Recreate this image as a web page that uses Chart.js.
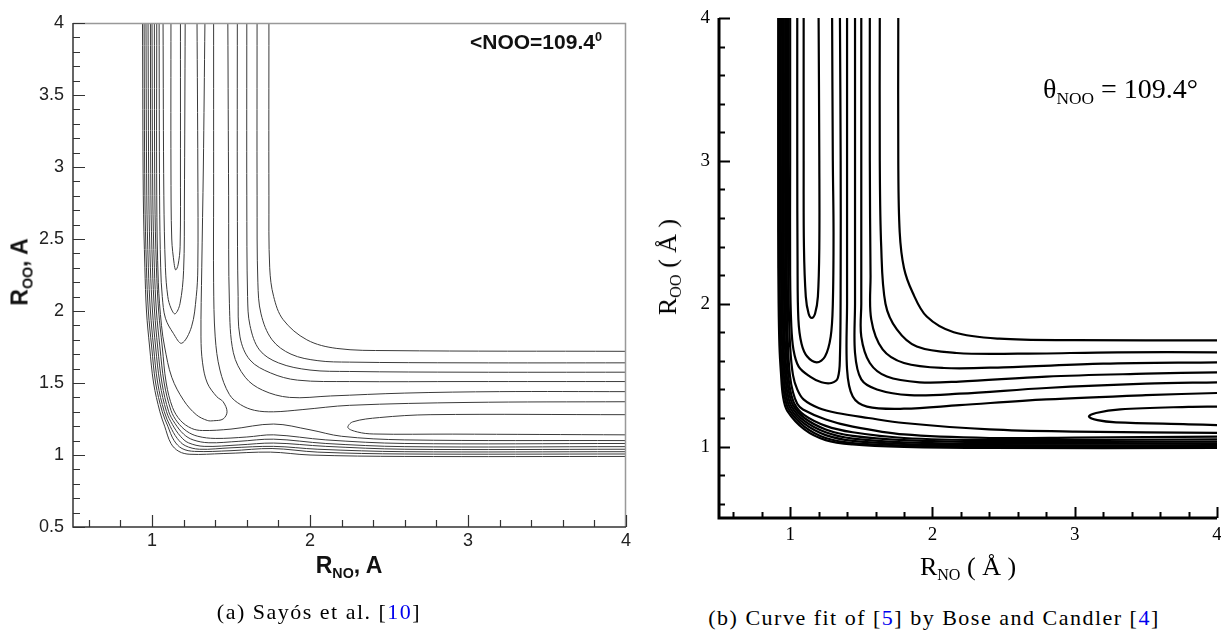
<!DOCTYPE html>
<html>
<head>
<meta charset="utf-8">
<script src="https://cdn.jsdelivr.net/npm/chart.js@4.4.1/dist/chart.umd.min.js"></script>
<style>
  body { margin: 0; background: #fff; }
  #page { position: relative; width: 1221px; height: 631px; overflow: hidden; background: #fff; }
  canvas { position: absolute; top: 0; }
  .txt { position: absolute; white-space: nowrap; line-height: 1; }
  .c { transform: translate(-50%, -50%); }
  .rot { transform: translate(-50%, -50%) rotate(-90deg); }
  .sans { font-family: "Liberation Sans", Arial, sans-serif; font-weight: bold; color: #111; }
  .serif { font-family: "Liberation Serif", "Times New Roman", serif; color: #000; }
  .cap { font-size: 22px; letter-spacing: 1.5px; }
  .sub { font-size: 62%; position: relative; top: 0.32em; }
  .sup { font-size: 60%; position: relative; top: -0.6em; }
  .cite { color: #0000ee; }
</style>
</head>
<body>
<div id="page">
  <canvas id="leftChart" width="640" height="560" style="left:0"></canvas>
  <canvas id="rightChart" width="581" height="560" style="left:640px"></canvas>

  <div class="txt sans rot" style="left:20px; top:272px; font-size:23px;">R<span class="sub">OO</span>, A</div>
  <div class="txt sans c" style="left:349px; top:565px; font-size:23px;">R<span class="sub">NO</span>, A</div>
  <div class="txt sans" style="left:470px; top:31px; font-size:21px;">&lt;NOO=109.4<span class="sup">0</span></div>
  <div class="txt serif cap c" style="left:319px; top:612px;">(a) Sayós et al. [<span class="cite">10</span>]</div>

  <div class="txt serif rot" style="left:668px; top:267px; font-size:26px;">R<span class="sub">OO</span> ( Å )</div>
  <div class="txt serif c" style="left:968px; top:567px; font-size:26px;">R<span class="sub">NO</span> ( Å )</div>
  <div class="txt serif" style="left:1043px; top:75px; font-size:28px;">θ<span class="sub">NOO</span> = 109.4°</div>
  <div class="txt serif cap c" style="left:934px; top:618px;">(b) Curve fit of [<span class="cite">5</span>] by Bose and Candler [<span class="cite">4</span>]</div>
</div>

<script>
// ---- axis ticks ----
const leftXTicks = [1, 2, 3, 4];
const leftYTicks = [0.5, 1, 1.5, 2, 2.5, 3, 3.5, 4];
const rightXTicks = [1, 2, 3, 4];
const rightYTicks = [1, 2, 3, 4];

// ---- (a) Sayos et al. contours, [R_NO, R_OO] ----
// dense band hugging the corner
const aBand0 = [[0.94,4],[0.945,2.8],[0.955,2.3],[0.965,2.0],[0.985,1.75],[1.01,1.5],[1.05,1.3],[1.08,1.2],[1.12,1.08],[1.17,1.025],[1.24,1.005],[1.45,1.01],[1.75,1.02],[2.0,1.0],[2.6,0.99],[4,0.99]];
const aBand1 = [[0.95,4],[0.955,2.8],[0.965,2.3],[0.977,2.0],[0.998,1.75],[1.023,1.5],[1.065,1.3],[1.1,1.2],[1.14,1.1],[1.19,1.045],[1.27,1.025],[1.5,1.03],[1.76,1.045],[2.05,1.02],[2.6,1.007],[4,1.007]];
const aBand2 = [[0.962,4],[0.967,2.8],[0.977,2.3],[0.99,2.0],[1.01,1.75],[1.036,1.5],[1.078,1.3],[1.115,1.2],[1.16,1.115],[1.21,1.065],[1.3,1.04],[1.5,1.05],[1.77,1.06],[2.05,1.04],[2.6,1.023],[4,1.023]];
const aBand3 = [[0.975,4],[0.98,2.8],[0.99,2.3],[1.003,2.0],[1.023,1.75],[1.05,1.5],[1.092,1.3],[1.13,1.21],[1.18,1.13],[1.23,1.085],[1.33,1.06],[1.55,1.07],[1.77,1.083],[2.1,1.06],[2.6,1.04],[4,1.04]];
const aBand4 = [[0.99,4],[0.993,2.8],[1.003,2.3],[1.016,2.0],[1.036,1.75],[1.063,1.5],[1.106,1.3],[1.145,1.22],[1.2,1.145],[1.26,1.105],[1.36,1.085],[1.55,1.095],[1.77,1.11],[2.1,1.08],[2.6,1.058],[4,1.058]];
const aBand5 = [[1.0,4],[1.005,2.8],[1.015,2.3],[1.028,2.0],[1.05,1.75],[1.077,1.5],[1.12,1.31],[1.16,1.23],[1.22,1.165],[1.29,1.13],[1.4,1.115],[1.6,1.125],[1.77,1.14],[2.1,1.105],[2.6,1.08],[4,1.08]];
const aBand6 = [[1.015,4],[1.018,2.8],[1.028,2.3],[1.042,2.0],[1.065,1.75],[1.09,1.5],[1.13,1.33],[1.18,1.24],[1.25,1.185],[1.32,1.17],[1.5,1.18],[1.77,1.215],[2.0,1.175],[2.2,1.13],[2.6,1.105],[4,1.10]];
// pockets opening upward
const aPocket1 = [[1.12,4],[1.12,3],[1.125,2.5],[1.14,2.33],[1.15,2.285],[1.165,2.32],[1.178,2.45],[1.18,3],[1.18,4]];
const aPocket2 = [[1.07,4],[1.075,2.8],[1.085,2.3],[1.1,2.1],[1.12,2.02],[1.146,1.98],[1.177,2.05],[1.2,2.28],[1.205,2.75],[1.21,4]];
const aPocket3 = [[1.045,4],[1.048,2.8],[1.055,2.3],[1.065,2.1],[1.085,1.95],[1.135,1.845],[1.188,1.776],[1.25,1.89],[1.28,2.1],[1.29,2.3],[1.29,3],[1.285,4]];
const aPocket4 = [[1.03,4],[1.03,2.8],[1.04,2.2],[1.06,1.9],[1.08,1.75],[1.125,1.54],[1.2,1.38],[1.28,1.28],[1.35,1.24],[1.39,1.238],[1.45,1.25],[1.475,1.3],[1.45,1.37],[1.41,1.405],[1.35,1.5],[1.32,1.64],[1.31,1.82],[1.315,2.3],[1.325,3],[1.335,4]];
// L-shaped contours
const aL1 = [[1.39,4],[1.39,2.8],[1.39,2.2],[1.4,1.82],[1.43,1.59],[1.49,1.42],[1.56,1.35],[1.65,1.31],[1.77,1.3],[1.95,1.315],[2.25,1.345],[3,1.365],[4,1.37]];
const aL2 = [[1.48,4],[1.485,2.8],[1.49,2.05],[1.515,1.71],[1.59,1.54],[1.7,1.45],[1.87,1.40],[2.13,1.41],[2.6,1.43],[3.2,1.44],[4,1.44]];
const aL3 = [[1.54,4],[1.54,2.8],[1.545,2.1],[1.557,1.82],[1.62,1.66],[1.75,1.57],[1.92,1.52],[2.25,1.51],[3,1.51],[4,1.51]];
const aL4 = [[1.60,4],[1.60,2.8],[1.605,2.1],[1.62,1.9],[1.68,1.73],[1.8,1.64],[2.0,1.59],[2.25,1.58],[3,1.575],[4,1.575]];
const aL5 = [[1.665,4],[1.665,2.8],[1.67,2.2],[1.69,1.98],[1.76,1.8],[1.88,1.7],[2.05,1.655],[2.25,1.645],[3,1.64],[4,1.64]];
const aL6 = [[1.74,4],[1.74,2.8],[1.745,2.3],[1.77,2.1],[1.83,1.94],[1.98,1.8],[2.17,1.74],[2.5,1.725],[4,1.72]];
// pocket opening to the right
const aRight = [[4,1.28],[2.76,1.28],[2.44,1.26],[2.27,1.23],[2.24,1.19],[2.3,1.16],[2.4,1.146],[2.9,1.145],[4,1.14]];

// ---- (b) Bose and Candler fit, [R_NO, R_OO] ----
const bBand0 = [[0.985,4],[0.985,2.5],[0.99,2.0],[1.0,1.7],[1.02,1.5],[1.05,1.4],[1.094,1.33],[1.2,1.27],[1.33,1.235],[1.55,1.2],[1.8,1.165],[2.4,1.12],[3,1.105],[4,1.096]];
const bBand1 = [[0.975,4],[0.975,2.5],[0.978,2.0],[0.985,1.7],[0.998,1.5],[1.02,1.38],[1.05,1.3],[1.09,1.26],[1.25,1.19],[1.44,1.14],[1.8,1.085],[2.4,1.06],[3,1.062],[4,1.07]];
const bBand2 = [[0.965,4],[0.965,2.5],[0.968,2.0],[0.975,1.7],[0.985,1.52],[1.0,1.4],[1.03,1.3],[1.1,1.22],[1.25,1.145],[1.44,1.1],[1.8,1.06],[2.4,1.045],[4,1.05]];
const bBand3 = [[0.955,4],[0.955,2.5],[0.958,2.0],[0.964,1.7],[0.974,1.52],[0.99,1.39],[1.02,1.29],[1.1,1.2],[1.25,1.12],[1.44,1.075],[1.8,1.045],[2.4,1.032],[4,1.035]];
const bBand4 = [[0.945,4],[0.945,2.5],[0.948,2.0],[0.954,1.7],[0.964,1.52],[0.98,1.38],[1.01,1.28],[1.1,1.18],[1.25,1.1],[1.44,1.055],[1.8,1.03],[2.4,1.02],[4,1.022]];
const bBand5 = [[0.935,4],[0.935,2.5],[0.938,2.0],[0.944,1.7],[0.954,1.52],[0.97,1.37],[1.0,1.27],[1.1,1.16],[1.25,1.08],[1.44,1.04],[1.8,1.018],[2.4,1.01],[4,1.01]];
const bBand6 = [[0.925,4],[0.925,2.5],[0.928,2.0],[0.934,1.7],[0.944,1.52],[0.96,1.36],[0.99,1.26],[1.1,1.14],[1.25,1.06],[1.44,1.025],[1.8,1.008],[2.4,1.0],[4,1.0]];
const bBand7 = [[0.916,4],[0.916,2.5],[0.919,2.0],[0.925,1.7],[0.935,1.52],[0.95,1.35],[0.98,1.25],[1.1,1.12],[1.25,1.045],[1.44,1.015],[1.8,0.998],[2.4,0.99],[4,0.99]];
const bPocket1 = [[1.095,4],[1.095,3],[1.097,2.4],[1.11,2.05],[1.13,1.93],[1.152,1.90],[1.175,1.93],[1.195,2.05],[1.205,2.4],[1.205,3],[1.2,4]];
const bPocket2 = [[1.05,4],[1.05,3],[1.052,2.3],[1.058,1.89],[1.08,1.72],[1.12,1.63],[1.187,1.59],[1.245,1.63],[1.285,1.77],[1.3,2.0],[1.305,2.5],[1.3,3],[1.295,4]];
const bPocket3 = [[1.0,4],[1.0,3],[1.0,2.2],[1.008,1.85],[1.023,1.68],[1.06,1.56],[1.14,1.49],[1.22,1.45],[1.29,1.445],[1.335,1.48],[1.35,1.63],[1.355,2.2],[1.355,3],[1.35,4]];
const bL1 = [[1.40,4],[1.40,3],[1.40,2.0],[1.40,1.54],[1.44,1.35],[1.54,1.28],[1.8,1.265],[2.19,1.29],[2.8,1.33],[3.5,1.36],[4,1.375]];
const bL2 = [[1.456,4],[1.456,3],[1.456,2.0],[1.456,1.655],[1.50,1.47],[1.61,1.40],[1.84,1.36],[2.19,1.37],[2.8,1.41],[3.5,1.44],[4,1.45]];
const bL3 = [[1.50,4],[1.50,3],[1.50,2.0],[1.50,1.77],[1.56,1.585],[1.68,1.49],[1.91,1.45],[2.19,1.455],[2.8,1.49],[3.5,1.51],[4,1.52]];
const bL4 = [[1.56,4],[1.56,3],[1.565,2.2],[1.57,1.89],[1.65,1.68],[1.80,1.585],[2.08,1.55],[2.5,1.555],[3.2,1.58],[4,1.59]];
const bL5 = [[1.63,4],[1.63,3],[1.64,2.4],[1.67,2.0],[1.75,1.82],[1.89,1.70],[2.17,1.655],[2.6,1.65],[3.3,1.66],[4,1.66]];
const bL6 = [[1.76,4],[1.76,3],[1.77,2.5],[1.8,2.25],[1.86,2.08],[1.96,1.91],[2.15,1.80],[2.47,1.755],[3,1.745],[4,1.743]];
const bRight = [[4,1.28],[3.8,1.278],[3.32,1.26],[3.15,1.235],[3.10,1.21],[3.16,1.185],[3.29,1.17],[3.8,1.156],[4,1.15]];

const leftCurves = [aBand0, aBand1, aBand2, aBand3, aBand4, aBand5, aBand6,
    aPocket1, aPocket2, aPocket3, aPocket4, aL1, aL2, aL3, aL4, aL5, aL6, aRight];
const rightCurves = [bBand0, bBand1, bBand2, bBand3, bBand4, bBand5, bBand6, bBand7,
    bPocket1, bPocket2, bPocket3, bL1, bL2, bL3, bL4, bL5, bL6, bRight];

// Axis lines and inward ticks, placed through the chart's own scales
const axesPlugin = {
    id: 'axes',
    afterDatasetsDraw(chart, args, o) {
        const { ctx, chartArea: a, scales: { x, y } } = chart;
        ctx.save();
        if (o.frameColor) {
            ctx.strokeStyle = o.frameColor;
            ctx.lineWidth = o.frameWidth;
            ctx.beginPath();
            ctx.moveTo(a.left, a.top + 0.5);
            ctx.lineTo(a.right - 0.5, a.top + 0.5);
            ctx.lineTo(a.right - 0.5, a.bottom);
            ctx.stroke();
        }
        ctx.strokeStyle = o.color;
        const drawTicks = (scale, values, len, width) => {
            ctx.lineWidth = width;
            ctx.beginPath();
            values.forEach(v => {
                const p = Math.round(scale.getPixelForValue(v)) + 0.5;
                if (scale.axis === 'x') {
                    ctx.moveTo(p, a.bottom);
                    ctx.lineTo(p, a.bottom - len);
                } else {
                    ctx.moveTo(a.left, p);
                    ctx.lineTo(a.left + len, p);
                }
            });
            ctx.stroke();
        };
        // minor tick positions between the labelled ones
        const minors = (scale, step, majors) => {
            const out = [];
            const first = Math.ceil(scale.min / step - 1e-6);
            for (let i = first; i * step < scale.max - 1e-6; i++) {
                const v = +(i * step).toFixed(4);
                if (v > scale.min && !majors.some(m => Math.abs(m - v) < 1e-6)) out.push(v);
            }
            return out;
        };
        drawTicks(x, minors(x, o.xMinor, o.xMajor), o.minorLen, o.tickWidth);
        drawTicks(y, minors(y, o.yMinor, o.yMajor), o.minorLen, o.tickWidth);
        drawTicks(x, o.xMajor, o.majorLen, o.tickWidth);
        drawTicks(y, o.yMajor, o.majorLen, o.tickWidth);

        ctx.lineWidth = o.axisWidth;
        ctx.beginPath();
        ctx.moveTo(a.left, a.top);
        ctx.lineTo(a.left, a.bottom);
        ctx.lineTo(a.right, a.bottom);
        ctx.stroke();
        ctx.restore();
    }
};

function makeSets(curves, color, width) {
    return curves.map(pts => ({
        data: pts.map(([x, y]) => ({ x, y })),
        showLine: true,
        borderColor: color,
        borderWidth: width,
        pointRadius: 0,
        tension: 0.35,
        fill: false
    }));
}

function makeChart(id, cfg) {
    const font = { family: cfg.font, size: cfg.fontSize };
    return new Chart(document.getElementById(id), {
        type: 'scatter',
        data: { datasets: makeSets(cfg.curves, cfg.lineColor, cfg.lineWidth) },
        plugins: [axesPlugin],
        options: {
            responsive: false,
            animation: false,
            events: [],
            layout: { padding: { top: cfg.top, right: cfg.right, left: 0, bottom: 0 } },
            plugins: {
                legend: { display: false },
                tooltip: { enabled: false },
                axes: cfg.axes
            },
            scales: {
                x: {
                    type: 'linear', min: 0.5, max: 4,
                    grid: { display: false, drawTicks: false },
                    border: { display: false },
                    afterBuildTicks: s => { s.ticks = cfg.xTicks.map(v => ({ value: v })); },
                    afterFit: s => { s.height = cfg.xHeight; s.paddingLeft = 0; s.paddingRight = 0; },
                    ticks: { padding: cfg.xPad, color: cfg.tickColor, font, autoSkip: false, maxRotation: 0,
                             callback: v => String(v) }
                },
                y: {
                    type: 'linear', min: 0.5, max: 4,
                    grid: { display: false, drawTicks: false },
                    border: { display: false },
                    afterBuildTicks: s => { s.ticks = cfg.yTicks.map(v => ({ value: v })); },
                    afterFit: s => { s.width = cfg.yWidth; s.paddingTop = 0; s.paddingBottom = 0; },
                    ticks: { padding: cfg.yPad, color: cfg.tickColor, font, autoSkip: false,
                             callback: v => String(v) }
                }
            }
        }
    });
}

document.addEventListener('DOMContentLoaded', () => {
    // (a) Sayos et al.
    makeChart('leftChart', {
        curves: leftCurves, lineColor: '#3a3a3a', lineWidth: 1,
        font: '"Liberation Sans", Arial, sans-serif', fontSize: 18, tickColor: '#222',
        top: 23, right: 14, xHeight: 33, yWidth: 73, xPad: 3, yPad: 9,
        xTicks: leftXTicks, yTicks: leftYTicks,
        axes: { color: '#333', axisWidth: 1.5, tickWidth: 1.2, majorLen: 12, minorLen: 7,
                xMajor: leftXTicks, yMajor: leftYTicks, xMinor: 0.2, yMinor: 0.1,
                frameColor: '#999', frameWidth: 1.5 }
    });

    // (b) Bose and Candler curve fit
    makeChart('rightChart', {
        curves: rightCurves, lineColor: '#000', lineWidth: 2.2,
        font: '"Liberation Serif", "Times New Roman", serif', fontSize: 19, tickColor: '#000',
        top: 18, right: 4, xHeight: 42, yWidth: 79, xPad: 6, yPad: 9,
        xTicks: rightXTicks, yTicks: rightYTicks,
        axes: { color: '#000', axisWidth: 3, tickWidth: 2, majorLen: 11, minorLen: 6,
                xMajor: rightXTicks, yMajor: rightYTicks, xMinor: 0.2, yMinor: 0.2 }
    });
});
</script>
</body>
</html>
